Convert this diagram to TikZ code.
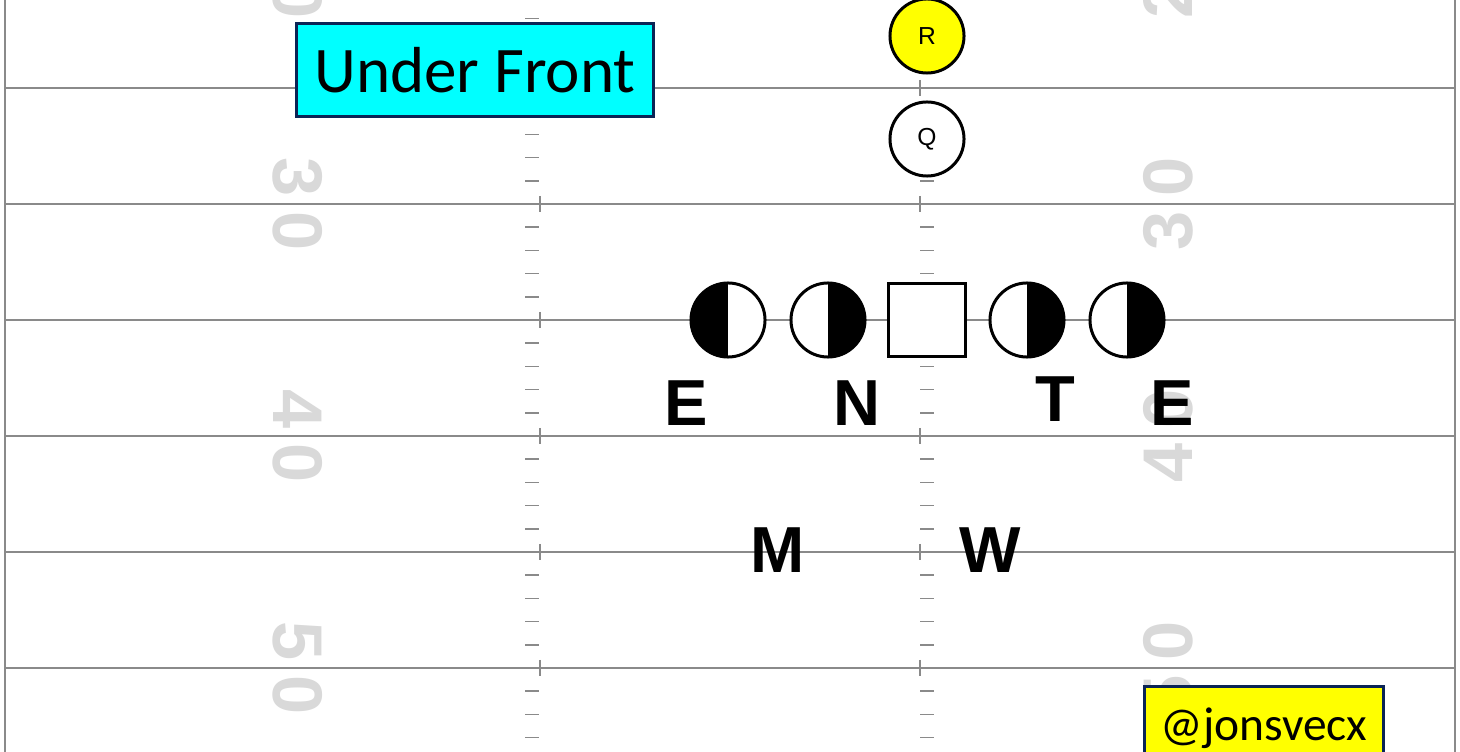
\documentclass[tikz,border=0pt]{standalone}
\usepackage{fontspec}
\setmainfont{Carlito}
\newfontfamily\playerfont{Liberation Sans}
\usepackage{xcolor}
\definecolor{navy}{HTML}{0B2455}
\definecolor{fieldgray}{HTML}{8A8A8A}
\definecolor{numgray}{HTML}{D9D9D9}
\definecolor{boxcyan}{HTML}{00FFFF}
\definecolor{boxyellow}{HTML}{FFFF00}
\usepackage{tikz}
\tikzset{
    yardline/.style={draw=fieldgray, line width=0.6pt},
    hashmark/.style={draw=fieldgray, line width=0.45pt},
    yardnum/.style={text=numgray, inner sep=0pt, font=\playerfont\bfseries\fontsize{20}{20}\selectfont},
    player/.style={circle, draw, line width=0.85pt, fill=white, minimum size=0.74cm, inner sep=0pt, font=\playerfont\fontsize{7}{8}\selectfont},
    halfL/.style={player, path picture={\fill[black] (path picture bounding box.south west) rectangle (path picture bounding box.north);}},
    halfR/.style={player, path picture={\fill[black] (path picture bounding box.south) rectangle (path picture bounding box.north east);}},
    centre/.style={draw, line width=0.85pt, fill=white, minimum width=0.76cm, minimum height=0.73cm, inner sep=0pt},
    poslabel/.style={inner sep=0pt, font=\playerfont\bfseries\fontsize{18.5}{19}\selectfont},
    tag/.style={draw=navy, line width=0.85pt, inner sep=0pt}
}

\begin{document}
\begin{tikzpicture}[x=0.01cm, y=-0.01cm]
    \clip (0,0) rectangle (1460,752);
    \fill[white] (0,0) rectangle (1460,752);

    % field
    \draw[yardline] (5,0) -- (5,752);
    \draw[yardline] (1455,0) -- (1455,752);
    \foreach \yy in {88,204,...,668}
      \draw[yardline] (5,\yy) -- (1455,\yy);
    \foreach \j in {1,...,33} {
      \pgfmathsetmacro\yy{-28+23.2*\j}
      \draw[hashmark] (525,\yy) -- (539,\yy);
      \draw[hashmark] (920,\yy) -- (934,\yy);
    }
    \foreach \yy in {88,204,...,668} {
      \draw[hashmark] (540,\yy-8) -- (540,\yy+8);
      \draw[hashmark] (920,\yy-8) -- (920,\yy+8);
    }
    \foreach \yl/\a/\b in {-28/2/0, 204/3/0, 436/4/0, 668/5/0} {
      \node[yardnum, rotate=-90] (numL\a) at (298,\yl) {\a\hspace{0.15cm}\b};
      \node[yardnum, rotate=90] (numR\a) at (1168,\yl) {\a\hspace{0.15cm}\b};
    }

    % offense
    \node[player, fill=boxyellow] (R) at (927,36) {R};
    \node[player] (Q) at (927,139) {Q};
    \node[centre] (C) at (927,320) {};
    \node[halfL] (EL) at (728,320) {};
    \node[halfR] (N) at (828,320) {};
    \node[halfR] (T) at (1027,320) {};
    \node[halfR] (ER) at (1127,320) {};

    % front labels
    \node[poslabel] (labEL) at (686,403) {E};
    \node[poslabel] (labN) at (857,403) {N};
    \node[poslabel] (labT) at (1055,399) {T};
    \node[poslabel] (labER) at (1172,403) {E};
    \node[poslabel] (labM) at (778,550) {M};
    \node[poslabel] (labW) at (990,550) {W};

    % tags
    \node[tag, fill=boxcyan, minimum width=3.57cm, minimum height=0.93cm,
          font=\fontsize{18.5}{20}\selectfont] (front) at (475,70) {Under Front};
    \node[tag, fill=boxyellow, minimum width=2.38cm, minimum height=0.82cm,
          font=\fontsize{13.5}{15}\selectfont] (handle) at (1264,728) {@jonsvecx};
\end{tikzpicture}
\end{document}
